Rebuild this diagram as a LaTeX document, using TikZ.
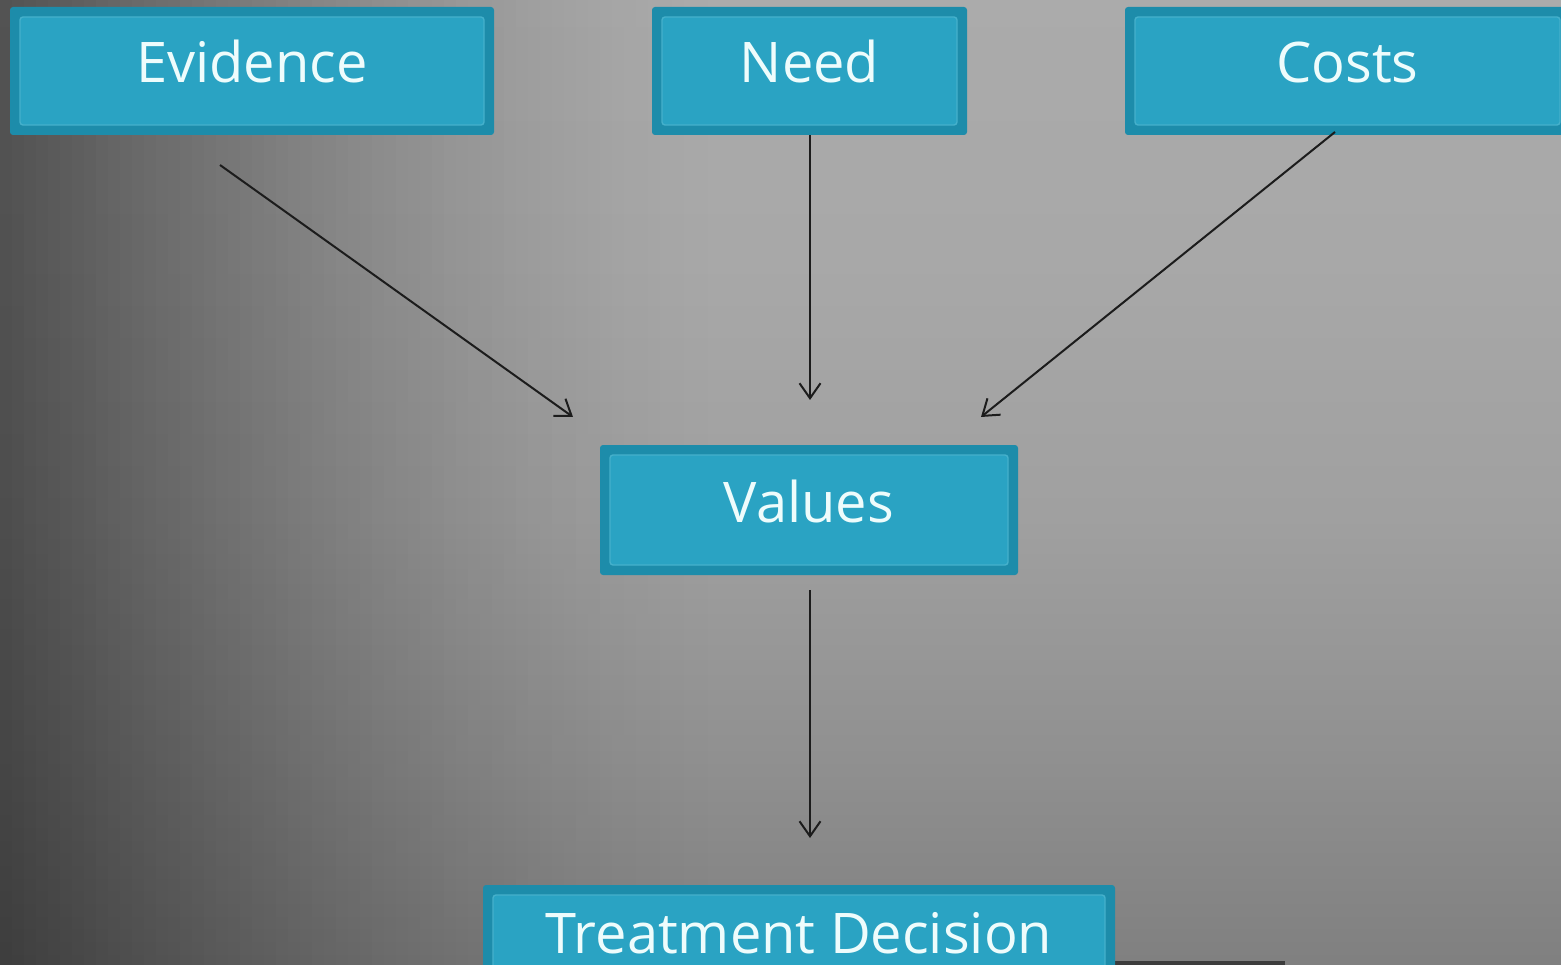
\documentclass[tikz,border=0pt]{standalone}
\usepackage{fontspec}
\setmainfont{Open Sans}
\usetikzlibrary{arrows.meta}
\definecolor{boxfill}{HTML}{2AA3C3}
\definecolor{boxedge}{HTML}{1D8CAA}
\definecolor{boxline}{HTML}{45B0CB}
\definecolor{txt}{HTML}{EEFCFC}
\definecolor{arrowcol}{HTML}{1C1C1C}
\definecolor{stripcol}{HTML}{3C3C3C}
\definecolor{vz}{gray}{0.392}
\definecolor{va}{gray}{0.416}
\definecolor{vb}{gray}{0.478}
\definecolor{vc}{gray}{0.565}
\definecolor{vd}{gray}{0.627}
\definecolor{ve}{gray}{0.659}
\definecolor{vf}{gray}{0.690}
\pgfdeclareverticalshading{bgv}{100bp}{color(0bp)=(vz); color(10.9bp)=(va); color(21.2bp)=(vb); color(35.8bp)=(vc); color(48.2bp)=(vd); color(61.7bp)=(ve); color(100bp)=(vf)}
\tikzset{
  boxtext/.style={text=txt, font=\fontsize{56}{60}\selectfont, inner sep=0pt},
  box/.style={rectangle, rounded corners=3pt, fill=boxedge, minimum height=128pt,
    boxtext, text height=40pt, text depth=16pt,
    path picture={\draw[boxline, line width=1.4pt, fill=boxfill]
      ([shift={(10pt,-10pt)}]path picture bounding box.north west) rectangle
      ([shift={(-10pt,10pt)}]path picture bounding box.south east);}},
  arr/.style={draw=arrowcol, line width=2pt, -{Straight Barb[length=15pt,width=21pt]}}
}
\begin{document}
\begin{tikzpicture}[x=1pt,y=1pt]
\path[use as bounding box] (0,0) rectangle (1561,-965);
\clip (0,0) rectangle (1561,-965);
\shade[shading=bgv] (0,0) rectangle (1561,-965);
\foreach \i in {0,...,59}{
  \pgfmathsetmacro\op{0.52*(1-(\i+0.5)/60)^1.5}
  \fill[black, opacity=\op] (\i*12,0) rectangle (\i*12+12,-965);
}

\fill[stripcol] (490,-961) rectangle (1285,-965);

\node[box, minimum width=484pt] (evidence) at (252,-71) {Evidence};
\node[box, minimum width=315pt] (need) at (809.5,-71) {Need};
\node[box, minimum width=445pt] (costs) at (1347.5,-71) {Costs};
\node[box, minimum width=418pt, minimum height=130pt] (values) at (809,-510) {Values};
\node[box, minimum width=632pt, minimum height=140pt] (decision) at (799,-955) {};
\node[boxtext, anchor=base, text height=40pt, text depth=0pt] (decisiontext) at (799,-953) {Treatment Decision};

\coordinate (e1) at (220,-165);
\coordinate (e2) at (573,-417);
\coordinate (n2) at (810,-400);
\coordinate (c1) at (1335,-132);
\coordinate (c2) at (981,-417);
\coordinate (v1) at (810,-590);
\coordinate (v2) at (810,-838);

\draw[arr] (e1) -- (e2);
\draw[arr] (need.south -| n2) -- (n2);
\draw[arr] (c1) -- (c2);
\draw[arr] (v1) -- (v2);
\end{tikzpicture}
\end{document}
